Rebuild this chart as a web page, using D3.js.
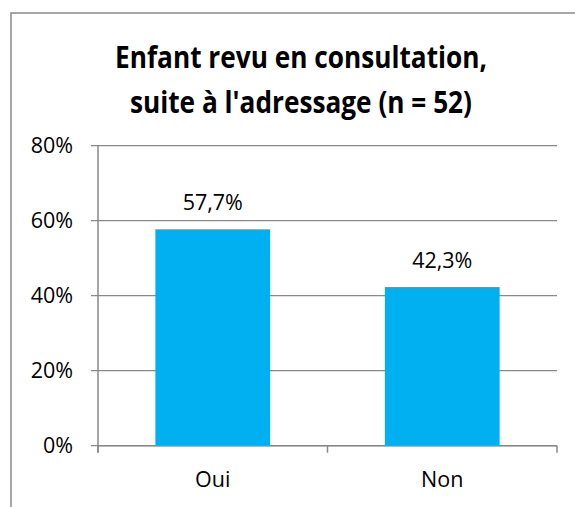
<!DOCTYPE html>
<html>
<head>
<meta charset="utf-8">
<script src="https://cdn.jsdelivr.net/npm/d3@7"></script>
<style>
  body { margin: 0; background: #fff; }
  svg { display: block; }
  .lbl { font-family: "Open Sans", "Noto Sans", sans-serif; fill: #000; }
</style>
</head>
<body>
<svg id="chart" width="575" height="507"></svg>
<script>
var categories = ["Oui", "Non"];
var values = [57.7, 42.3];
var yTicks = [0, 20, 40, 60, 80];
var titleLines = ["Enfant revu en consultation,", "suite à l'adressage (n = 52)"];

var svg = d3.select("#chart");
var grey = "#898989";

// chart frame (runs past the right and bottom edges, like the cropped original)
svg.append("rect")
   .attr("x", 11).attr("y", 13)
   .attr("width", 600).attr("height", 520)
   .attr("fill", "#fff")
   .attr("stroke", grey)
   .attr("stroke-width", 1.5);

var plot = {left: 98, right: 557, top: 145.7, bottom: 445.7};

var y = d3.scaleLinear().domain([0, 80]).range([plot.bottom, plot.top]);
var x = d3.scaleBand().domain(categories)
          .range([plot.left, plot.right])
          .paddingInner(0.5).paddingOuter(0.25);
var xEdges = d3.scaleLinear().domain([0, categories.length]).range([plot.left, plot.right]);

// gridlines
svg.append("g").selectAll("line")
   .data(yTicks)
   .enter().append("line")
   .attr("x1", plot.left - 7).attr("x2", plot.right)
   .attr("y1", function(d) { return y(d); })
   .attr("y2", function(d) { return y(d); })
   .attr("stroke", grey).attr("stroke-width", 1.3);

// y axis
var yAxis = svg.append("g")
   .attr("transform", "translate(" + plot.left + ",0)")
   .call(d3.axisLeft(y).tickValues(yTicks).tickSize(0).tickPadding(25)
           .tickFormat(function(d) { return d + "%"; }));
yAxis.select(".domain").remove();
yAxis.selectAll("text").attr("class", "lbl").attr("font-size", 21.5).attr("fill", "#000");

svg.append("line")
   .attr("x1", plot.left).attr("x2", plot.left)
   .attr("y1", plot.top).attr("y2", plot.bottom + 7)
   .attr("stroke", grey).attr("stroke-width", 1.5);

// bars
svg.append("g").selectAll("rect")
   .data(values)
   .enter().append("rect")
   .attr("x", function(d, i) { return x(categories[i]); })
   .attr("width", x.bandwidth())
   .attr("y", function(d) { return y(d); })
   .attr("height", function(d) { return plot.bottom - y(d); })
   .attr("fill", "#00B0F0");

// x axis line + boundary ticks
svg.append("line")
   .attr("x1", plot.left).attr("x2", plot.right)
   .attr("y1", plot.bottom).attr("y2", plot.bottom)
   .attr("stroke", grey).attr("stroke-width", 1.5);
svg.append("g").selectAll("line")
   .data(d3.range(categories.length + 1))
   .enter().append("line")
   .attr("x1", function(d) { return xEdges(d); })
   .attr("x2", function(d) { return xEdges(d); })
   .attr("y1", plot.bottom).attr("y2", plot.bottom + 7)
   .attr("stroke", grey).attr("stroke-width", 1.5);

var xAxis = svg.append("g")
   .attr("transform", "translate(0," + plot.bottom + ")")
   .call(d3.axisBottom(x).tickSize(0).tickPadding(26));
xAxis.select(".domain").remove();
xAxis.selectAll("text").attr("class", "lbl").attr("font-size", 21.5).attr("fill", "#000");

// value labels
svg.append("g").selectAll("text")
   .data(values)
   .enter().append("text")
   .attr("class", "lbl")
   .attr("font-size", 21.5)
   .attr("text-anchor", "middle")
   .attr("x", function(d, i) { return x(categories[i]) + x.bandwidth() / 2; })
   .attr("y", function(d) { return y(d) - 19; })
   .text(function(d) { return d.toFixed(1).replace(".", ",") + "%"; });

// title
var title = svg.append("g").selectAll("text")
   .data(titleLines)
   .enter().append("text")
   .attr("class", "lbl")
   .attr("font-weight", "bold")
   .attr("font-size", 31)
   .attr("text-anchor", "middle")
   .attr("x", 301)
   .attr("y", function(d, i) { return 68 + i * 45; })
   .text(function(d) { return d; });

// squeeze the title glyphs so the first line is as wide as in the original
var k = 372 / title.node().getComputedTextLength();
title.each(function() {
  var t = d3.select(this);
  t.attr("textLength", this.getComputedTextLength() * k)
   .attr("lengthAdjust", "spacingAndGlyphs");
});
</script>
</body>
</html>
